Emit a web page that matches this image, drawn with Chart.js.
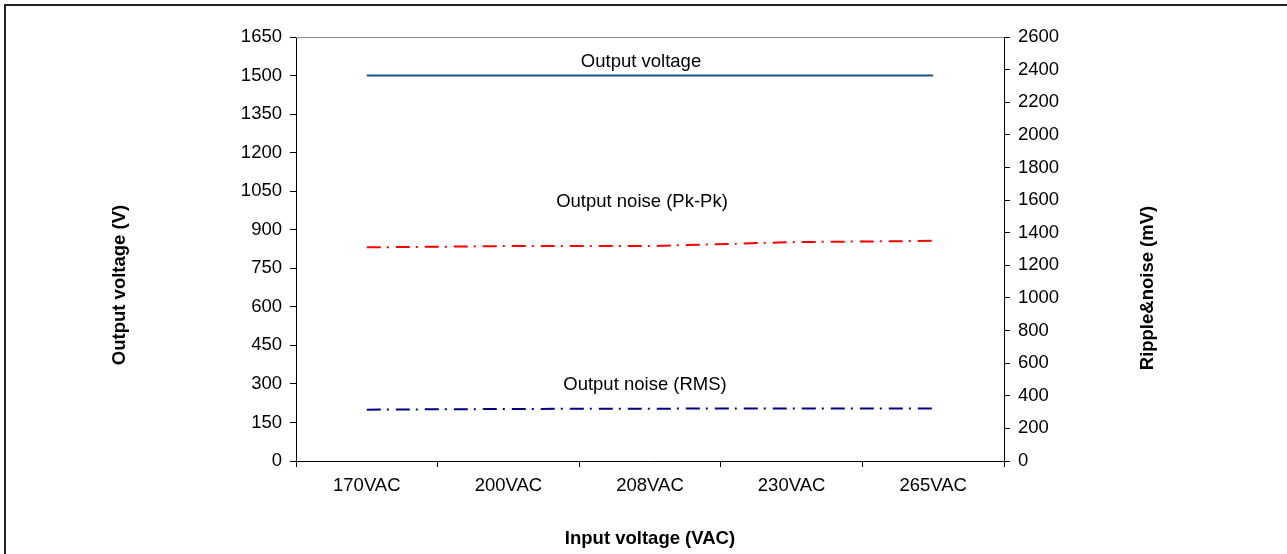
<!DOCTYPE html>
<html>
<head>
<meta charset="utf-8">
<title>Output voltage and ripple vs input voltage</title>
<script src="https://cdn.jsdelivr.net/npm/chart.js@4.4.1/dist/chart.umd.min.js"></script>
<style>
  html, body { margin: 0; padding: 0; background: #fff; }
  canvas { display: block; }
</style>
</head>
<body>
<canvas id="chart" width="1287" height="554"></canvas>
<script>
const inputVoltages = ["170VAC", "200VAC", "208VAC", "230VAC", "265VAC"];
const outputVoltage = [1500, 1500, 1500, 1500, 1500];     // V, left axis
const noisePkPk = [1310, 1318, 1318, 1342, 1350];         // mV, right axis
const noiseRms = [315, 319, 321, 322, 322];               // mV, right axis

const FONT = "'Liberation Sans', Arial, sans-serif";
const SIZE = 18.5;
const dashDot = [14, 6, 2, 7];

// frame, top edge of the plot and the free text labels
const decorations = {
  id: "decorations",
  beforeDraw(chart) {
    const ctx = chart.ctx;
    ctx.save();
    ctx.fillStyle = "#fff";
    ctx.fillRect(0, 0, chart.width, chart.height);
    ctx.strokeStyle = "#222";
    ctx.lineWidth = 2;
    ctx.beginPath();
    ctx.moveTo(5, chart.height + 5);
    ctx.lineTo(5, 5);
    ctx.lineTo(chart.width + 5, 5);
    ctx.stroke();
    ctx.restore();
  },
  afterDraw(chart) {
    const { ctx, chartArea: a, scales } = chart;
    ctx.save();
    ctx.strokeStyle = "#8c8c8c";
    ctx.lineWidth = 1;
    ctx.beginPath();
    ctx.moveTo(a.left, a.top + 0.5);
    ctx.lineTo(a.right, a.top + 0.5);
    ctx.stroke();

    ctx.fillStyle = "#000";
    ctx.textAlign = "center";
    ctx.textBaseline = "middle";

    // series labels, placed above each line near the middle category
    ctx.font = SIZE + "px " + FONT;
    const xMid = scales.x.getPixelForValue(2);
    ctx.fillText("Output voltage", xMid - 9, scales.y.getPixelForValue(outputVoltage[2]) - 14);
    ctx.fillText("Output noise (Pk-Pk)", xMid - 8, scales.y2.getPixelForValue(noisePkPk[2]) - 44);
    ctx.fillText("Output noise (RMS)", xMid - 5, scales.y2.getPixelForValue(noiseRms[2]) - 24);

    // axis titles
    ctx.font = "bold " + SIZE + "px " + FONT;
    ctx.fillText("Input voltage (VAC)", (a.left + a.right) / 2, 539);
    ctx.save();
    ctx.translate(120, (a.top + a.bottom) / 2 + 36);
    ctx.rotate(-Math.PI / 2);
    ctx.fillText("Output voltage (V)", 0, 0);
    ctx.restore();
    ctx.save();
    ctx.translate(1148, (a.top + a.bottom) / 2 + 39);
    ctx.rotate(-Math.PI / 2);
    ctx.fillText("Ripple&noise (mV)", 0, 0);
    ctx.restore();
    ctx.restore();
  }
};

const plainNumber = (v) => String(v);

new Chart(document.getElementById("chart"), {
  type: "line",
  data: {
    labels: inputVoltages,
    datasets: [
      {
        label: "Output voltage",
        data: outputVoltage,
        yAxisID: "y",
        borderColor: "#1f4f8f",
        borderWidth: 2,
        pointRadius: 0,
        tension: 0
      },
      {
        label: "Output noise (Pk-Pk)",
        data: noisePkPk,
        yAxisID: "y2",
        borderColor: "#ff0000",
        borderWidth: 2,
        borderDash: dashDot,
        pointRadius: 0,
        tension: 0
      },
      {
        label: "Output noise (RMS)",
        data: noiseRms,
        yAxisID: "y2",
        borderColor: "#000080",
        borderWidth: 2,
        borderDash: dashDot,
        pointRadius: 0,
        tension: 0
      }
    ]
  },
  options: {
    responsive: false,
    animation: false,
    layout: { padding: { top: 37, left: 0, right: 0, bottom: 0 } },
    plugins: { legend: { display: false }, tooltip: { enabled: false } },
    scales: {
      x: {
        offset: true,
        grid: { offset: true, drawOnChartArea: false, tickLength: 6, color: "#000" },
        border: { color: "#000", width: 1 },
        ticks: { color: "#000", font: { family: FONT, size: SIZE }, padding: 8, maxRotation: 0 },
        afterFit: (s) => { s.height = 93; }
      },
      y: {
        position: "left",
        min: 0,
        max: 1650,
        grid: { drawOnChartArea: false, tickLength: 6, color: "#000" },
        border: { color: "#000", width: 1 },
        ticks: { stepSize: 150, color: "#000", font: { family: FONT, size: SIZE }, padding: 8, callback: plainNumber },
        afterFit: (s) => { s.width = 296; }
      },
      y2: {
        position: "right",
        min: 0,
        max: 2600,
        grid: { drawOnChartArea: false, tickLength: 6, color: "#000" },
        border: { color: "#000", width: 1 },
        ticks: { stepSize: 200, color: "#000", font: { family: FONT, size: SIZE }, padding: 8, callback: plainNumber },
        afterFit: (s) => { s.width = 283; }
      }
    }
  },
  plugins: [decorations]
});
</script>
</body>
</html>
